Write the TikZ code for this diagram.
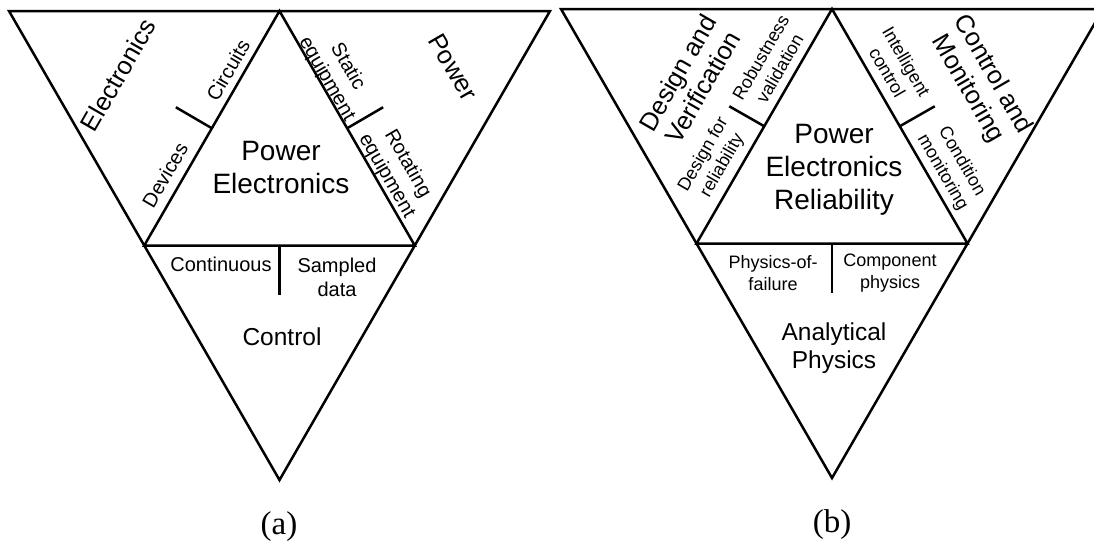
\documentclass[tikz,border=0pt]{standalone}
\usepackage{fontspec}
\setmainfont{Liberation Sans}
\newfontfamily\serifcap{Liberation Serif}
\usetikzlibrary{calc}
\begin{document}
\begin{tikzpicture}[x=1pt,y=-1pt,
  edge/.style={line width=2.5pt},
  tick/.style={line width=2.5pt},
  big/.style={font=\fontsize{28}{33}\selectfont, align=center, inner sep=0pt},
  head/.style={font=\fontsize{25.5}{29}\selectfont, align=center, inner sep=0pt},
  suba/.style={font=\fontsize{20}{24}\selectfont, align=center, inner sep=0pt},
  subb/.style={font=\fontsize{18}{22}\selectfont, align=center, inner sep=0pt},
  base/.style={font=\fontsize{24.5}{28}\selectfont, align=center, inner sep=0pt},
  caption/.style={font=\serifcap\fontsize{33}{36}\selectfont, inner sep=0pt}]
\useasboundingbox (0,0) rectangle (1094,542);
\clip (0,0) rectangle (1094,542);
% ---------- (a) ----------
\coordinate (a1) at (9,11);
\coordinate (a2) at (550,11);
\coordinate (a3) at (279.5,480);
\coordinate (aL) at ($(a1)!0.5!(a3)$);
\coordinate (aR) at ($(a2)!0.5!(a3)$);
\coordinate (aT) at ($(a1)!0.5!(a2)$);
\draw[edge] (a1) -- (a2) -- (a3) -- cycle;
\draw[edge] (aL) -- (aT) -- (aR) -- cycle;
\coordinate (atl) at ($(aL)!0.5!(aT)$);
\coordinate (atr) at ($(aR)!0.5!(aT)$);
\coordinate (atb) at ($(aL)!0.5!(aR)$);
\coordinate (atl2) at ($(atl)+(-36,-21)$);
\coordinate (atr2) at ($(atr)+(36,-21)$);
\coordinate (atb2) at ($(atb)+(0,49)$);
\draw[tick] (atl) -- (atl2);
\draw[tick] (atr) -- (atr2);
\draw[tick] (atb) -- (atb2);
\node[head, rotate=60] (elec) at (118,75) {Electronics};
\node[suba, rotate=60] (circ) at (228,70) {Circuits};
\node[suba, rotate=60] (dev) at (165,175) {Devices};
\node[big] (pe) at (281,167) {Power\\Electronics};
\node[suba, rotate=-60] (stat) at (337,73) {Static\\equipment};
\node[head, rotate=-60] (pow) at (453,67) {Power};
\node[suba, rotate=-60] (rot) at (397,170) {Rotating\\equipment};
\node[suba] (cont) at (221,264) {Continuous};
\node[suba] (samp) at (337,277) {Sampled\\data};
\node[base] (ctrl) at (282,337) {Control};
\node[caption] (capa) at (279,527) {(a)};
% ---------- (b) ----------
\coordinate (b1) at (561,9);
\coordinate (b2) at (1103,9);
\coordinate (b3) at (832,478);
\coordinate (bL) at ($(b1)!0.5!(b3)$);
\coordinate (bR) at ($(b2)!0.5!(b3)$);
\coordinate (bT) at ($(b1)!0.5!(b2)$);
\draw[edge] (b1) -- (b2) -- (b3) -- cycle;
\draw[edge] (bL) -- (bT) -- (bR) -- cycle;
\coordinate (btl) at ($(bL)!0.5!(bT)$);
\coordinate (btr) at ($(bR)!0.5!(bT)$);
\coordinate (btb) at ($(bL)!0.5!(bR)$);
\coordinate (btl2) at ($(btl)+(-35,-20)$);
\coordinate (btr2) at ($(btr)+(35,-20)$);
\coordinate (btb2) at ($(btb)+(0,49)$);
\draw[tick] (btl) -- (btl2);
\draw[tick] (btr) -- (btr2);
\draw[tick] (btb) -- (btb2);
\node[head, rotate=60] (dv) at (690,80) {Design and\\Verification};
\node[subb, rotate=60] (rv) at (770,63) {Robustness\\validation};
\node[subb, rotate=60] (dr) at (713,160) {Design for\\reliability};
\node[big] (per) at (834,170) {Power\\Electronics\\Reliability};
\node[subb, rotate=-60] (ic) at (897,67) {Intelligent\\control};
\node[head, rotate=-60] (cm) at (980,82) {Control and\\Monitoring};
\node[subb, rotate=-60] (cnd) at (952,167) {Condition\\monitoring};
\node[subb] (pof) at (773,273) {Physics-of-\\failure};
\node[subb] (cp) at (890,273) {Component\\physics};
\node[base] (ap) at (834,348) {Analytical\\Physics};
\node[caption] (capb) at (832,525) {(b)};
\end{tikzpicture}
\end{document}
